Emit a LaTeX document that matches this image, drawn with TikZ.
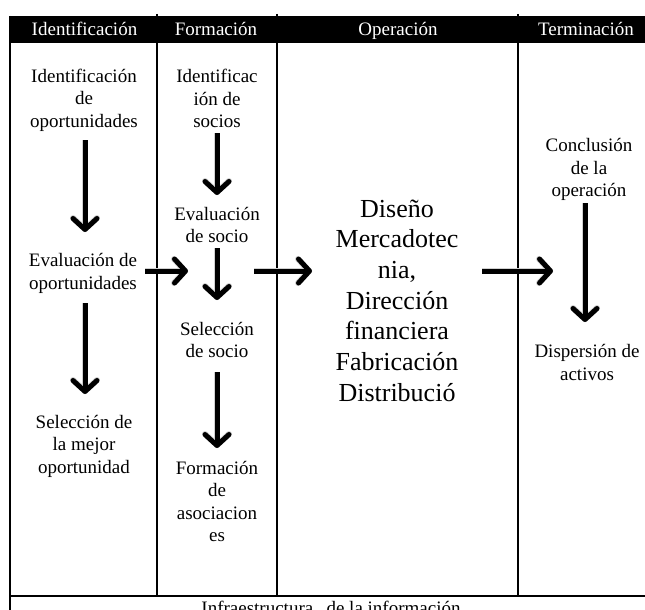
\documentclass[tikz,border=0pt]{standalone}
\usepackage{fontspec}
\setmainfont{Liberation Serif}
\usetikzlibrary{arrows.meta}
\begin{document}
\begin{tikzpicture}[x=1pt,y=-1pt,
  txt/.style={align=center, inner sep=0pt, font=\fontsize{19}{22.5}\selectfont},
  big/.style={align=center, inner sep=0pt, font=\fontsize{26}{30.7}\selectfont},
  head/.style={anchor=base, inner sep=0pt, text=white, font=\fontsize{19}{22}\selectfont},
  rule/.style={line width=2pt},
  arr/.style={line width=5pt, -{Straight Barb[length=11pt,width=24pt,round]}},
  arrshadow/.style={arr, black!18, line width=6pt, shift={(1.5,2.5)}},
]
\useasboundingbox (0,0) rectangle (645,610);
\begin{scope}
\clip (0,0) rectangle (645,610);
% header bar
\fill[black] (9,16) rectangle (665,43);
% table rules
\draw[rule] (10,16) -- (10,620);
\draw[rule] (156.5,14) -- (156.5,596);
\draw[rule] (276.5,14) -- (276.5,596);
\draw[rule] (518,14) -- (518,596);
\draw[rule] (10,596) -- (665,596);
% header texts
\node[head] (h1) at (84.5,35.5) {Identificación};
\node[head] (h2) at (216,35.5) {Formación};
\node[head] (h3) at (398,35.5) {Operación};
\node[head] (h4) at (586,35.5) {Terminación};
% column 1
\node[txt] (idop) at (84,100) {Identificación\\de\\oportunidades};
\node[txt] (evop) at (83,273.5) {Evaluación de\\oportunidades};
\node[txt] (selop) at (84,446) {Selección de\\la mejor\\oportunidad};
% column 2
\node[txt] (idso) at (217,98.5) {Identificac\\ión de\\socios};
\node[txt] (evso) at (217,225) {Evaluación\\de socio};
\node[txt] (selso) at (217,340) {Selección\\de socio};
\node[txt] (foas) at (217,501.5) {Formación\\de\\asociacion\\es};
% column 3
\node[big] (oper) at (397,300.5) {Diseño\\Mercadotec\\nia,\\Dirección\\financiera\\Fabricación\\Distribució};
% column 4
\node[txt] (conc) at (589,169.5) {Conclusión\\de la\\operación};
\node[txt] (disp) at (587,362.5) {Dispersión de\\activos};
% bottom row
\node[txt, anchor=base] (infra) at (331,614) {Infraestructura\hspace{0.45em} de la información};
% arrow end points
\coordinate (a1s) at (85,140);  \coordinate (a1e) at (85,232);
\coordinate (a2s) at (85,303);  \coordinate (a2e) at (85,394);
\coordinate (b1s) at (217,133); \coordinate (b1e) at (217,195);
\coordinate (b2s) at (217,248); \coordinate (b2e) at (217,300);
\coordinate (b3s) at (217,372); \coordinate (b3e) at (217,448);
\coordinate (c1s) at (585,203); \coordinate (c1e) at (585,322);
\coordinate (h1s) at (145,271); \coordinate (h1e) at (188,271);
\coordinate (h2s) at (254,271); \coordinate (h2e) at (312,271);
\coordinate (h3s) at (482,271); \coordinate (h3e) at (553,271);
% arrows
\foreach \s/\e in {a1s/a1e,a2s/a2e,b1s/b1e,b2s/b2e,b3s/b3e,c1s/c1e,h1s/h1e,h2s/h2e,h3s/h3e}{
  \draw[arrshadow] (\s) -- (\e);
  \draw[arr] (\s) -- (\e);
}
\end{scope}
\end{tikzpicture}
\end{document}
